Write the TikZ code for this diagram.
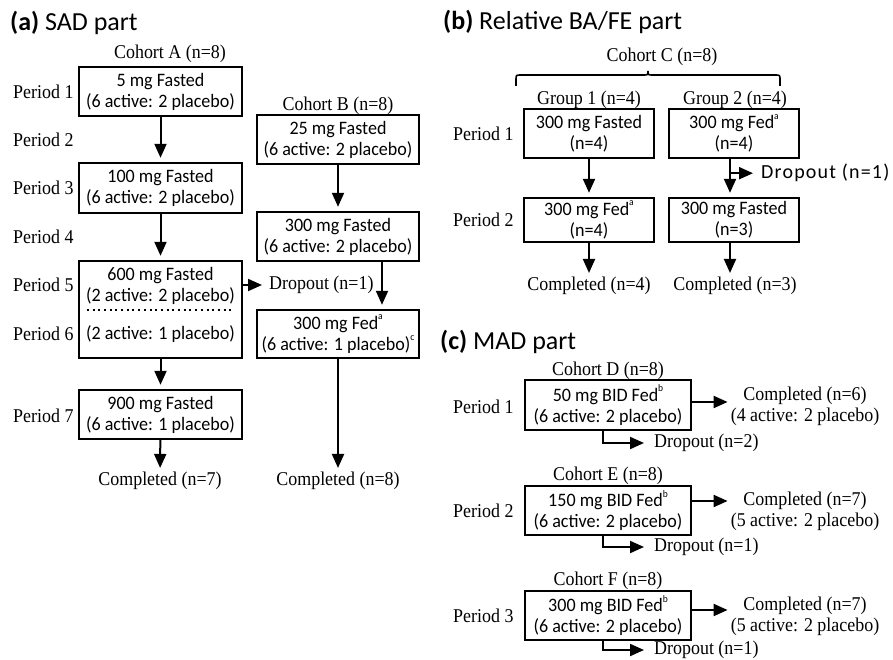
\documentclass[tikz,border=0pt]{standalone}
\usepackage{fontspec}
\setmainfont{Liberation Serif}[FakeStretch=0.92]
\newfontfamily\carl{Carlito}[FakeStretch=0.95]
\newfontfamily\carlh{Carlito}
\usetikzlibrary{arrows.meta,calc}
\newcommand\supx[1]{\raisebox{0.5em}{\fontsize{10}{10}\selectfont #1}}
\begin{document}
\begin{tikzpicture}[x=1pt,y=-1pt,
 box/.style={draw,line width=2.4pt,inner sep=0pt,align=center,font=\carl\fontsize{19}{21}\selectfont},
 btxt/.style={inner sep=0pt,align=center,font=\carl\fontsize{19}{21}\selectfont},
 ser/.style={inner sep=0pt,align=center,font=\fontsize{19.5}{21}\selectfont},
 per/.style={ser,anchor=west},
 head/.style={anchor=base west,inner sep=0pt,font=\carlh\fontsize{26}{28}\selectfont},
 arr/.style={line width=2pt,-{Triangle[length=14pt,width=12pt]},shorten >=4pt},
 wa/.style={box,minimum width=163pt},
 wb/.style={box,minimum width=130pt},
 wc/.style={box,minimum width=166pt},
]
\useasboundingbox (0,0) rectangle (893,660);

% ---------------- (a) SAD part
\node[head] (ha) at (10,31) {\textbf{(a)} SAD part};
\node[per] (pa1) at (13,92) {Period 1};
\node[per] (pa2) at (13,140) {Period 2};
\node[per] (pa3) at (13,188) {Period 3};
\node[per] (pa4) at (13,237) {Period 4};
\node[per] (pa5) at (13,285) {Period 5};
\node[per] (pa6) at (13,334) {Period 6};
\node[per] (pa7) at (13,416) {Period 7};

\node[ser] (cohA) at (170,54) {Cohort A (n=8)};
\node[wa,minimum height=49pt] (A1) at (160.5,91.5) {5 mg Fasted\\(6 active: 2 placebo)};
\node[wa,minimum height=50pt] (A2) at (160.5,188) {100 mg Fasted\\(6 active: 2 placebo)};
\node[wa,minimum height=97pt] (A3) at (160.5,309.5) {};
\node[btxt] (A3t) at (160.5,286) {600 mg Fasted\\(2 active: 2 placebo)};
\node[btxt] (A3b) at (160.5,334) {(2 active: 1 placebo)};
\draw[line width=1.6pt,dash pattern=on 2pt off 3.7pt] ([xshift=9pt,yshift=-0.5pt]A3.west) -- ([xshift=-9pt,yshift=-0.5pt]A3.east);
\node[wa,minimum height=49pt] (A4) at (160.5,414.5) {900 mg Fasted\\(6 active: 1 placebo)};
\node[ser] (compA) at (160,481) {Completed (n=7)};

\draw[arr] (A1) -- (A2);
\draw[arr] (A2) -- (A3);
\draw[arr] (A3) -- (A4);
\draw[arr] (A4) -- (compA);

\node[ser] (cohB) at (338,106) {Cohort B (n=8)};
\node[box,minimum width=162pt,minimum height=49pt] (B1) at (338,139.5) {25 mg Fasted\\(6 active: 2 placebo)};
\node[box,minimum width=162pt,minimum height=49pt] (B2) at (338,236.5) {300 mg Fasted\\(6 active: 2 placebo)};
\node[box,minimum width=162pt,minimum height=48pt] (B3) at (338,334) {300 mg Fed\supx{a}\\(6 active: 1 placebo)\supx{c}};
\node[ser] (compB) at (338,481) {Completed (n=8)};
\node[ser,anchor=west] (dropA) at (269,285) {Dropout (n=1)};

\draw[arr] (B1) -- (B2);
\draw[arr] ([xshift=44pt]B2.south) -- ([xshift=44pt]B3.north);
\draw[arr] (B3) -- (compB);
\draw[arr,shorten >=7pt] (A3.east |- dropA.west) -- (dropA.west);

% ---------------- (b) Relative BA/FE part
\node[head] (hb) at (443,30) {\textbf{(b)} Relative BA/FE part};
\node[ser] (cohC) at (662,57) {Cohort C (n=8)};
\coordinate (brL) at (516,86);
\coordinate (brM) at (648,71);
\coordinate (brR) at (780,86);
\draw[line width=1.6pt] (brL) -- (516,80) .. controls (516,75) .. (521,75) -- (643,75) .. controls (648,75) .. (brM) .. controls (648,75) .. (653,75) -- (775,75) .. controls (780,75) .. (780,80) -- (brR);

\node[ser] (g1) at (589,100) {Group 1 (n=4)};
\node[ser] (g2) at (735,100) {Group 2 (n=4)};
\node[per] (pb1) at (453,134) {Period 1};
\node[per] (pb2) at (453,220) {Period 2};
\node[wb,minimum height=49pt] (C1) at (589,133.5) {300 mg Fasted\\(n=4)};
\node[wb,minimum height=49pt] (C2) at (734,133.5) {300 mg Fed\supx{a}\\(n=4)};
\node[wb,minimum height=44pt] (C3) at (589,220) {300 mg Fed\supx{a}\\(n=4)};
\node[wb,minimum height=44pt] (C4) at (734,220) {300 mg Fasted\\(n=3)};
\node[ser] (compC1) at (589,286) {Completed (n=4)};
\node[ser] (compC2) at (735,286) {Completed (n=3)};
\node[inner sep=0pt,anchor=west,font=\carlh\fontsize{20}{24}\selectfont\addfontfeature{LetterSpace=6}] (dropC) at (761,173) {Dropout (n=1)};

\draw[arr] (C1) -- (C3);
\draw[arr] ([xshift=-4pt]C2.south) -- ([xshift=-4pt]C4.north);
\coordinate (cb) at ($(C2.south)+(-4,14)$);
\draw[arr,shorten >=8pt] (cb) -- (cb -| dropC.west);
\draw[arr] (C3) -- (compC1);
\draw[arr] ([xshift=-4pt]C4.south) -- ([xshift=-4pt]C4.south |- compC2.north);

% ---------------- (c) MAD part
\node[head] (hc) at (440,349) {\textbf{(c)} MAD part};

\node[ser] (cohD) at (608,371) {Cohort D (n=8)};
\node[wc,minimum height=50pt] (D) at (608,405) {50 mg BID Fed\supx{b}\\(6 active: 2 placebo)};
\node[per] (pc1) at (453,407) {Period 1};
\node[ser] (compD) at (805,406.5) {Completed (n=6)\\(4 active: 2 placebo)};
\node[ser,anchor=west] (dropD) at (654,443) {Dropout (n=2)};
\coordinate (dD) at ([yshift=3pt]D.east);
\draw[arr,shorten >=3pt] (dD) -- (dD -| compD.west);
\draw[arr,shorten >=10pt] ([xshift=-5pt]D.south) |- (dropD.west);

\node[ser] (cohE) at (608,476) {Cohort E (n=8)};
\node[wc,minimum height=49pt] (E) at (608,510.5) {150 mg BID Fed\supx{b}\\(6 active: 2 placebo)};
\node[per] (pc2) at (453,511) {Period 2};
\node[ser] (compE) at (805,511) {Completed (n=7)\\(5 active: 2 placebo)};
\node[ser,anchor=west] (dropE) at (654,547) {Dropout (n=1)};
\coordinate (dE) at ([yshift=9.5pt]E.east);
\draw[arr,shorten >=3pt] (dE) -- (dE -| compE.west);
\draw[arr,shorten >=10pt] ([xshift=-5pt]E.south) |- (dropE.west);

\node[ser] (cohF) at (608,581) {Cohort F (n=8)};
\node[wc,minimum height=49pt] (F) at (608,615.5) {300 mg BID Fed\supx{b}\\(6 active: 2 placebo)};
\node[per] (pc3) at (453,616) {Period 3};
\node[ser] (compF) at (805,616.5) {Completed (n=7)\\(5 active: 2 placebo)};
\node[ser,anchor=west] (dropF) at (654,650) {Dropout (n=1)};
\coordinate (dF) at ([yshift=5.5pt]F.east);
\draw[arr,shorten >=3pt] (dF) -- (dF -| compF.west);
\draw[arr,shorten >=10pt] ([xshift=-5pt]F.south) |- (dropF.west);
\end{tikzpicture}
\end{document}
